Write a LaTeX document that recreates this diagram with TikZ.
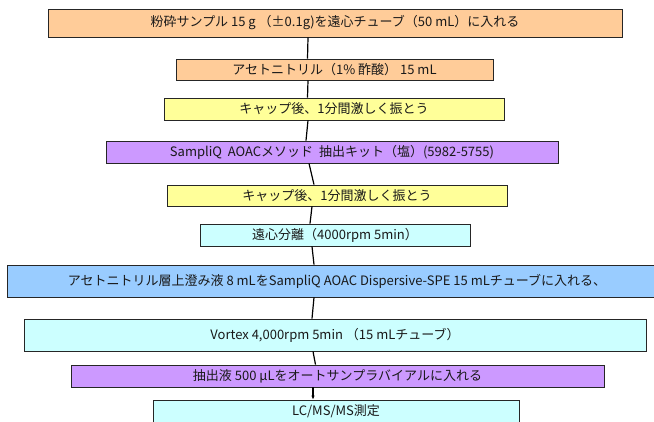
\documentclass[tikz,border=0pt]{standalone}
\usepackage{fontspec}
\setmainfont{Noto Sans CJK JP}
\usepackage{xcolor}
\usetikzlibrary{arrows.meta}

\definecolor{peach}{HTML}{FFCC99}
\definecolor{lemon}{HTML}{FFFF99}
\definecolor{lilac}{HTML}{CC99FF}
\definecolor{aqua}{HTML}{CCFFFF}
\definecolor{skyblue}{HTML}{99CCFF}

\begin{document}
\begin{tikzpicture}[x=1pt,y=-1pt,
    stepbox/.style={draw=black!85, line width=0.8pt, inner sep=0pt,
        font=\fontsize{13}{15}\selectfont, text=black!90},
    link/.style={line width=1.2pt, black}]
    \useasboundingbox (0,0) rectangle (654,421);

    % Sample
    \node[stepbox, fill=peach, minimum width=574, minimum height=28] (s1) at (335,23)
        {粉砕サンプル 15 g （±0.1g)を遠心チューブ（50 mL）に入れる};

    % Solvent
    \node[stepbox, fill=peach, minimum width=317, minimum height=21] (s2) at (334.5,69.5)
        {アセトニトリル（1\% 酢酸） 15 mL};

    % Shake
    \node[stepbox, fill=lemon, minimum width=340, minimum height=22] (s3) at (334,109)
        {キャップ後、1分間激しく振とう};

    % Salts
    \node[stepbox, fill=lilac, minimum width=452, minimum height=22] (s4) at (332,152)
        {SampliQ\ \ AOACメソッド\ \ 抽出キット（塩）(5982-5755)};

    % Shake again
    \node[stepbox, fill=lemon, minimum width=340, minimum height=21] (s5) at (337,195.5)
        {キャップ後、1分間激しく振とう};

    % Centrifuge
    \node[stepbox, fill=aqua, minimum width=270, minimum height=22] (s6) at (335,235)
        {遠心分離（4000rpm 5min）};

    % Dispersive SPE
    \node[stepbox, fill=skyblue, minimum width=660, minimum height=32] (s7) at (337,281)
        {アセトニトリル層上澄み液 8 mLをSampliQ AOAC Dispersive-SPE 15 mLチューブに入れる、};

    % Vortex
    \node[stepbox, fill=aqua, minimum width=622, minimum height=32] (s8) at (335,335)
        {Vortex 4,000rpm 5min （15 mLチューブ）};

    % Vial
    \node[stepbox, fill=lilac, minimum width=533, minimum height=22] (s9) at (337.5,376)
        {抽出液 500 μLをオートサンプラバイアルに入れる};

    % Measurement
    \node[stepbox, fill=aqua, minimum width=366, minimum height=22] (s10) at (336,411)
        {LC/MS/MS測定};

    % Connectors
    \foreach \a/\b/\d in {s1/s2/-27, s2/s3/-26.5, s3/s4/-26, s4/s5/-23,
                          s5/s6/-25, s6/s7/-23, s7/s8/-23, s8/s9/-22}
        \draw[link] ([xshift=\d]\a.south) -- ([xshift=\d]\b.north);
    \draw[link, -{Latex[length=4pt,width=3.5pt]}] ([xshift=-24.5]s9.south) -- ([xshift=-23]s10.north);
\end{tikzpicture}
\end{document}
